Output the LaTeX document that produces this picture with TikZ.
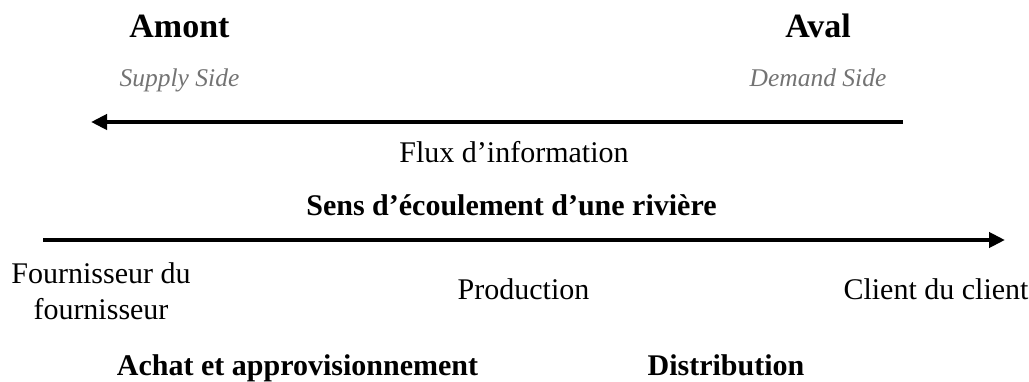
\documentclass[tikz,border=0pt]{standalone}
\usepackage{fontspec}
\setmainfont{Liberation Serif}
\usetikzlibrary{arrows.meta}
\def\ligneinfo{122}
\def\lignerive{240}

\begin{document}
\begin{tikzpicture}[x=1pt,y=-1pt,
    titre/.style={anchor=base,inner sep=0pt,font=\fontsize{34}{40}\selectfont\bfseries},
    cote/.style={anchor=base,inner sep=0pt,text=black!55,font=\fontsize{25.5}{30}\selectfont\itshape},
    etape/.style={anchor=base,inner sep=0pt,font=\fontsize{30}{36}\selectfont},
    phase/.style={anchor=base,inner sep=0pt,font=\fontsize{30}{36}\selectfont\bfseries},
    fleche/.style={line width=4pt,-{Triangle[length=16pt,width=15pt]}}]
  \useasboundingbox (0,0) rectangle (1029,382);
  % Amont / aval
  \foreach \nom/\px/\titre/\cote in {
      amont/179.5/Amont/Supply Side,
      aval/818/Aval/Demand Side
    } {
      \node[titre] (\nom) at (\px,38) {\titre};
      \node[cote] (\nom side) at (\px,87) {\cote};
    };
  % Flux d'information (de l'aval vers l'amont)
  \coordinate (infoD) at (903,\ligneinfo);
  \coordinate (infoG) at (91,\ligneinfo);
  \draw[fleche] (infoD) -- (infoG);
  \node[etape] (info) at (514,163) {Flux d’information};
  % Sens de la riviere
  \node[phase] (sens) at (511.5,216) {Sens d’écoulement d’une rivière};
  \coordinate (riveG) at (43,\lignerive);
  \coordinate (riveD) at (1005,\lignerive);
  \draw[fleche] (riveG) -- (riveD);
  % Acteurs le long de la chaine
  \node[etape,anchor=north,align=center] (fourn) at (101,262) {Fournisseur du\\fournisseur};
  \foreach \nom/\px/\texte in {prod/523.5/Production, client/936/Client du client}
    \node[etape] (\nom) at (\px,300) {\texte};
  % Fonctions
  \foreach \nom/\px/\texte in {achat/297.5/Achat et approvisionnement, distrib/726/Distribution}
    \node[phase] (\nom) at (\px,375) {\texte};
\end{tikzpicture}
\end{document}
